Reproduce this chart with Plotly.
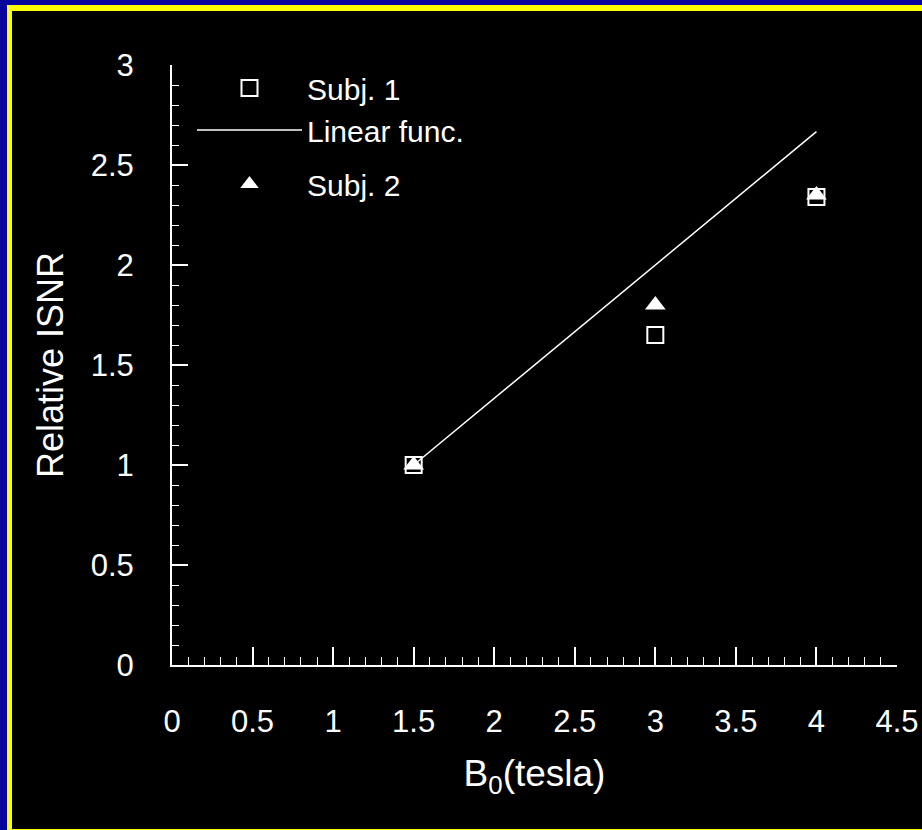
import plotly.graph_objects as go

# ---- data ----
b0_subj1 = [1.5, 3.0, 4.0]
isnr_subj1 = [1.0, 1.65, 2.34]
b0_subj2 = [1.5, 3.0, 4.0]
isnr_subj2 = [1.0, 1.8, 2.35]
b0_linear = [1.5, 4.0]
isnr_linear = [1.0, 4.0 / 1.5]

x_ticks = [0, 0.5, 1, 1.5, 2, 2.5, 3, 3.5, 4, 4.5]
x_ticklabels = ["0", "0.5", "1", "1.5", "2", "2.5", "3", "3.5", "4", "4.5"]
y_ticks = [0, 0.5, 1, 1.5, 2, 2.5, 3]
y_ticklabels = ["0", "0.5", "1", "1.5", "2", "2.5", "3"]

FONT = "Liberation Sans, Arial, Helvetica, sans-serif"
W, H = 922, 830
L, R, T, B = 172, 25, 65, 165
PW = W - L - R
PH = H - T - B


def px_x(p):
    return (p - L) / PW


def px_y(p):
    return (H - B - p) / PH


fig = go.Figure()

fig.add_trace(go.Scatter(
    x=b0_subj1, y=isnr_subj1, mode="markers", name="Subj. 1",
    legendgroup="a",
    marker=dict(symbol="square-open", size=16, color="white",
                line=dict(color="white", width=2)),
))
fig.add_trace(go.Scatter(
    x=b0_linear, y=isnr_linear, mode="lines", name="Linear func.",
    legendgroup="a",
    line=dict(color="white", width=1.5),
))
fig.add_trace(go.Scatter(
    x=b0_subj2, y=isnr_subj2, mode="markers", name="Subj. 2",
    legendgroup="c",
    marker=dict(symbol="triangle-up", size=18, color="white"),
))

shapes = [
    dict(type="rect", xref="paper", yref="paper", layer="below",
         x0=px_x(7), x1=px_x(W + 20), y0=px_y(H + 20), y1=px_y(5),
         fillcolor="#ffff00", line=dict(width=0)),
    dict(type="rect", xref="paper", yref="paper", layer="below",
         x0=px_x(12), x1=px_x(W + 20), y0=px_y(H - 1), y1=px_y(11),
         fillcolor="black", line=dict(width=0)),
]

axis_common = dict(
    showgrid=False, zeroline=False, showline=True, linecolor="white",
    linewidth=2, ticks="inside", tickcolor="white", tickwidth=1.5,
    tickfont=dict(family=FONT, size=31, color="white"),
    mirror=False, automargin=False,
)

fig.update_layout(
    width=W, height=H,
    margin=dict(l=L, r=R, t=T, b=B, pad=0, autoexpand=False),
    paper_bgcolor="#06069a",
    plot_bgcolor="rgba(0,0,0,0)",
    shapes=shapes,
    font=dict(family=FONT, color="white"),
    showlegend=True,
    legend=dict(
        x=px_x(192), y=px_y(62), xanchor="left", yanchor="top",
        bgcolor="rgba(0,0,0,0)", borderwidth=0,
        font=dict(family=FONT, size=30, color="white"),
        itemwidth=105, tracegroupgap=12, traceorder="grouped",
    ),
    xaxis=dict(
        range=[0, 4.5], tickvals=x_ticks, ticktext=x_ticklabels,
        ticklen=18, ticklabelstandoff=28,
        minor=dict(dtick=0.1, ticks="inside", ticklen=8,
                   tickcolor="white", tickwidth=1.2, showgrid=False),
        title=dict(text="B<sub>0</sub>(tesla)", standoff=22,
                   font=dict(family=FONT, size=37, color="white")),
        **axis_common,
    ),
    yaxis=dict(
        range=[0, 3], tickvals=y_ticks, ticktext=y_ticklabels,
        ticklen=16, ticklabelstandoff=30,
        minor=dict(dtick=0.1, ticks="inside", ticklen=7,
                   tickcolor="white", tickwidth=1.2, showgrid=False),
        title=dict(text="Relative ISNR", standoff=16,
                   font=dict(family=FONT, size=36, color="white")),
        **axis_common,
    ),
)

fig.write_html(
    "out.html",
    config={"displayModeBar": False},
    post_script="document.body.style.margin='0';document.body.style.overflow='hidden';",
)
